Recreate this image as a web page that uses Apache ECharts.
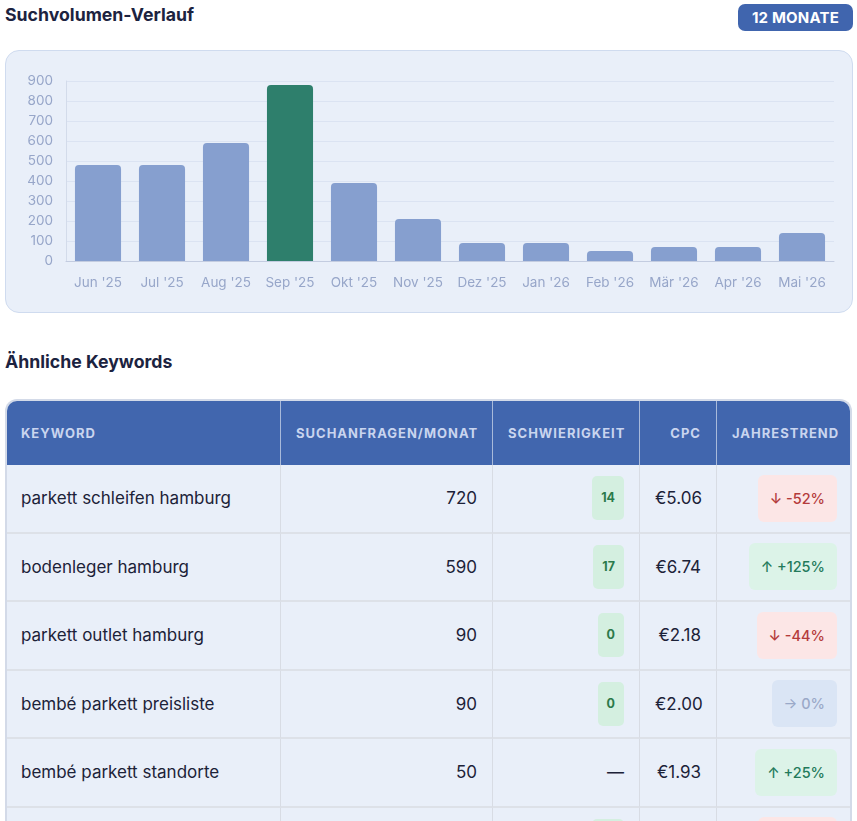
<!DOCTYPE html>
<html>
<head>
<meta charset="utf-8">
<script src="https://cdn.jsdelivr.net/npm/echarts@6/dist/echarts.min.js"></script>
<style>
  html, body { margin:0; padding:0; background:#fff; width:857px; height:821px; overflow:hidden; font-family: Inter, "Noto Sans", sans-serif; }
  .h { position:absolute; left:5px; font-size:17.7px; font-weight:700; color:#1c2340; line-height:20px; }
  #badge { position:absolute; left:738px; top:4px; width:115px; height:27px; border-radius:7px; background:#4065ae; color:#fff; font-size:15px; font-weight:700; line-height:27px; text-align:center; letter-spacing:0.2px; }
  #panel { position:absolute; left:5px; top:50px; width:846px; height:261px; background:#e9eff9; border:1px solid #cfdbef; border-radius:14px; }
  #chart { position:absolute; left:0; top:0; width:857px; height:330px; }
  #tw { position:absolute; left:5px; top:399px; width:843px; border:2px solid #d3dae8; border-bottom:none; border-radius:12px 12px 0 0; overflow:hidden; background:#e9eff9; }
  table { border-collapse:separate; border-spacing:0; table-layout:fixed; width:843px; }
  th { background:#4166ae; color:#c9d5ef; font-size:13px; font-weight:700; letter-spacing:1px; height:64px; padding:0 15px; border-right:1px solid rgba(255,255,255,0.55); white-space:nowrap; }
  th:last-child, td:last-child { border-right:none; }
  td { height:66.5px; padding:0 15px; border-right:1px solid #d8dce4; border-bottom:2px solid #dde1e8; font-size:17px; color:#1c2238; white-space:nowrap; }
  th.l, td.l { padding-left:14px; }
  th:last-child, td:last-child { padding-right:13px; }
  .l { text-align:left; } .r { text-align:right; }
  .kd { display:inline-block; height:44px; line-height:44px; padding:0 9px; border-radius:5px; background:#d4efe0; color:#2b7a4b; font-size:12.5px; font-weight:700; }
  .tr { display:inline-block; height:47px; line-height:47px; padding:0 12px; border-radius:6px; font-size:14.5px; font-weight:500; }
  .dn { background:#fce6e6; color:#b43b3b; }
  .up { background:#dcf3e8; color:#237a5b; }
  .fl { background:#dae5f5; color:#9aa9c8; }
</style>
</head>
<body>
<div class="h" style="top:5px;">Suchvolumen-Verlauf</div>
<div id="badge">12 MONATE</div>
<div id="panel"></div>
<div id="chart"></div>
<div class="h" style="top:352px;">Ähnliche Keywords</div>
<div id="tw"><table id="tbl"></table></div>
<script>
// ---- chart data ----
const months = ["Jun '25","Jul '25","Aug '25","Sep '25","Okt '25","Nov '25","Dez '25","Jan '26","Feb '26","Mär '26","Apr '26","Mai '26"];
const volumes = [480, 480, 590, 880, 390, 210, 90, 90, 50, 70, 70, 140];
const peakMonth = "Sep '25";
const yTicks = [0, 100, 200, 300, 400, 500, 600, 700, 800, 900];

// ---- table data ----
const headers = ["KEYWORD", "SUCHANFRAGEN/MONAT", "SCHWIERIGKEIT", "CPC", "JAHRESTREND"];
const keywords = ["parkett schleifen hamburg", "bodenleger hamburg", "parkett outlet hamburg", "bembé parkett preisliste", "bembé parkett standorte", "parkett hamburg"];
const searches = [720, 590, 90, 90, 50, 50];
const difficulty = [14, 17, 0, 0, null, 10];
const cpc = ["€5.06", "€6.74", "€2.18", "€2.00", "€1.93", "€1.50"];
const trend = [-52, 125, -44, 0, 25, -33];

const chart = echarts.init(document.getElementById('chart'), null, {renderer:'canvas'});
chart.setOption({
  animation:false,
  grid:{ left:66, right:23, top:81, height:180 },
  xAxis:{ type:'category', data:months,
    axisLine:{ lineStyle:{ color:'#c3cce0' } }, axisTick:{ show:false },
    axisLabel:{ color:'#97a6c9', fontSize:13.5, margin:15, fontFamily:'Inter', interval:0, hideOverlap:false } },
  yAxis:{ type:'value', min:yTicks[0], max:yTicks[yTicks.length-1], interval:100,
    axisLine:{ show:true, lineStyle:{ color:'#d3dbea' } },
    axisLabel:{ color:'#97a6c9', fontSize:13.5, margin:13, fontFamily:'Inter' },
    splitLine:{ lineStyle:{ color:'#dbe3f2' } } },
  series:[{ type:'bar', barCategoryGap:'28%',
    data: volumes.map((v,i)=>({ value:v, itemStyle:{ color: months[i]===peakMonth ? '#2e7f6c' : '#869fcf' } })),
    itemStyle:{ borderRadius:[4,4,0,0] } }]
});

// ---- table ----
const tbl = document.getElementById('tbl');
const widths = [274, 212, 147, 77, 133];
let html = '<colgroup>' + widths.map(w=>`<col style="width:${w}px">`).join('') + '</colgroup>';
html += '<thead><tr>' + headers.map((h,i)=>`<th class="${i===0?'l':'r'}">${h}</th>`).join('') + '</tr></thead><tbody>';
keywords.forEach((k,i)=>{
  const d = difficulty[i] === null ? '—' : `<span class="kd">${difficulty[i]}</span>`;
  const t = trend[i];
  const tcls = t > 0 ? 'up' : (t < 0 ? 'dn' : 'fl');
  const ttxt = t > 0 ? `↑ +${t}%` : (t < 0 ? `↓ ${t}%` : `→ 0%`);
  html += `<tr><td class="l">${k}</td><td class="r">${searches[i]}</td><td class="r">${d}</td><td class="r">${cpc[i]}</td><td class="r"><span class="tr ${tcls}">${ttxt}</span></td></tr>`;
});
html += '</tbody>';
tbl.innerHTML = html;
</script>
</body>
</html>
